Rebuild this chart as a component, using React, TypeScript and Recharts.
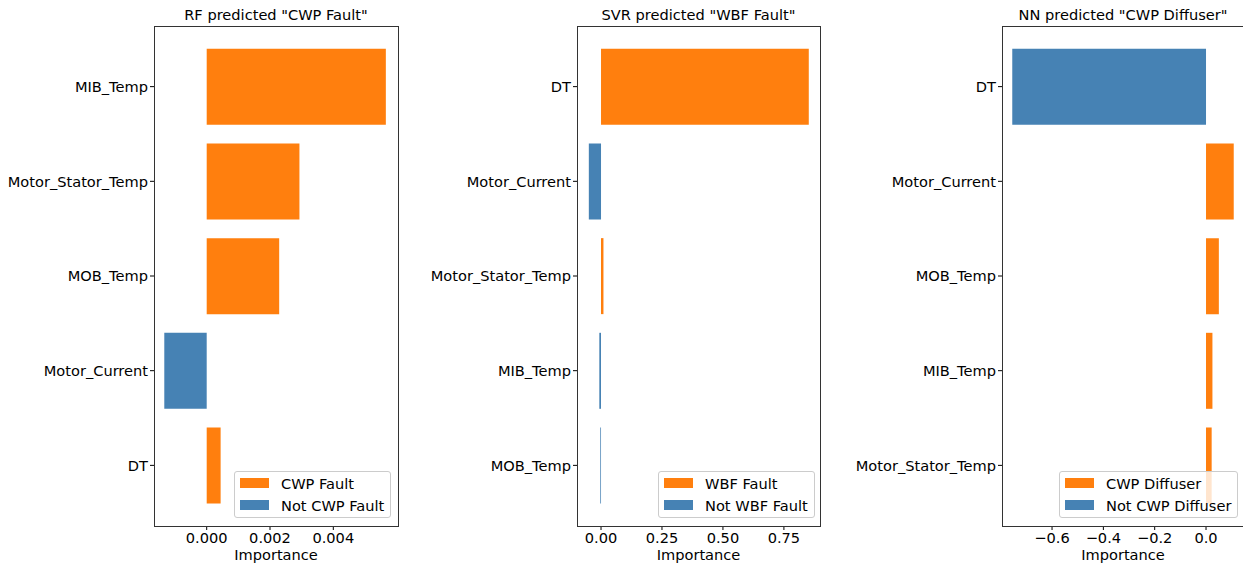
import React from 'react';
import { BarChart, Bar, Cell, XAxis, YAxis, Legend } from 'recharts';

// RF panel
const rfFeatures = ['MIB_Temp', 'Motor_Stator_Temp', 'MOB_Temp', 'Motor_Current', 'DT'];
const rfValues = [0.00566, 0.00293, 0.00229, -0.00134, 0.00044];
const rfTicks = [0, 0.002, 0.004];

// SVR panel
const svrFeatures = ['DT', 'Motor_Current', 'Motor_Stator_Temp', 'MIB_Temp', 'MOB_Temp'];
const svrValues = [0.852, -0.05, 0.01, -0.007, -0.003];
const svrTicks = [0, 0.25, 0.5, 0.75];

// NN panel
const nnFeatures = ['DT', 'Motor_Current', 'MOB_Temp', 'MIB_Temp', 'Motor_Stator_Temp'];
const nnValues = [-0.755, 0.108, 0.05, 0.025, 0.022];
const nnTicks = [-0.6, -0.4, -0.2, 0];

const ORANGE = '#ff7f0e';
const BLUE = '#4682b4';
const SPINE = '#333';
const FONT = '"DejaVu Sans", sans-serif';
const FS = 14.6;
const H = 565;
const W = 410;
const PLOT_TOP = 26;
const PLOT_BOTTOM = 526;

type PanelProps = {
  title: string;
  features: string[];
  values: number[];
  ticks: number[];
  digits: number;
  domain: [number, number];
  posLabel: string;
  negLabel: string;
  divLeft: number;
  plotLeft: number;
  plotRight: number;
  legendLeft: number;
};

const fmt = (digits: number) => (v: number) => v.toFixed(digits).replace('-', '\u2212');

const ImportancePanel = (p: PanelProps) => {
  const data = p.features.map((feature, i) => ({ feature, value: p.values[i] }));
  const yWidth = p.plotLeft - p.divLeft;
  const rightMargin = W - (p.plotRight - p.divLeft);

  const legendContent = () => (
    <div
      style={{
        background: 'rgba(255,255,255,0.8)',
        border: '1px solid #cccccc',
        borderRadius: 3,
        padding: '0 6px 1px 5px',
        fontSize: FS,
        color: '#000',
        whiteSpace: 'nowrap',
      }}
    >
      {[
        { label: p.posLabel, color: ORANGE },
        { label: p.negLabel, color: BLUE },
      ].map((e) => (
        <div key={e.label} style={{ display: 'flex', alignItems: 'center', height: 22 }}>
          <span style={{ display: 'inline-block', width: 29, height: 10, background: e.color, marginRight: 12 }} />
          <span>{e.label}</span>
        </div>
      ))}
    </div>
  );

  return (
    <div style={{ position: 'absolute', left: p.divLeft, top: 0, width: W, height: H }}>
      <div
        style={{
          position: 'absolute',
          top: 4,
          left: yWidth,
          width: p.plotRight - p.plotLeft,
          textAlign: 'center',
          fontSize: FS,
          lineHeight: '22px',
          whiteSpace: 'nowrap',
          color: '#000',
        }}
      >
        {p.title}
      </div>
      <BarChart
        width={W}
        height={H}
        data={data}
        layout="vertical"
        barCategoryGap="10%"
        margin={{ top: PLOT_TOP, right: rightMargin, bottom: 0, left: 0 }}
      >
        <XAxis
          type="number"
          dataKey="value"
          domain={p.domain}
          allowDataOverflow
          ticks={p.ticks}
          tickFormatter={fmt(p.digits)}
          height={H - PLOT_BOTTOM}
          tick={{ fill: '#000', fontSize: FS }}
          tickLine={{ stroke: '#000' }}
          tickSize={4}
          tickMargin={3}
          axisLine={false}
          interval={0}
          label={{ value: 'Importance', position: 'insideBottom', offset: 5, fill: '#000', fontSize: FS }}
        />
        <YAxis
          type="category"
          dataKey="feature"
          width={yWidth}
          padding={{ top: 13.3, bottom: 13.3 }}
          tick={{ fill: '#000', fontSize: FS }}
          tickLine={{ stroke: '#000' }}
          tickSize={4}
          tickMargin={2}
          axisLine={false}
          interval={0}
        />
        <Legend
          layout="vertical"
          align="center"
          verticalAlign="middle"
          content={legendContent}
          wrapperStyle={{ left: p.legendLeft, top: 471, width: 'auto' }}
        />
        <Bar dataKey="value" isAnimationActive={false}>
          {data.map((d) => (
            <Cell key={d.feature} fill={d.value >= 0 ? ORANGE : BLUE} />
          ))}
        </Bar>
      </BarChart>
      {/* axes frame (spines) */}
      <div
        style={{
          position: 'absolute',
          left: yWidth - 0.5,
          top: PLOT_TOP - 0.5,
          width: p.plotRight - p.plotLeft + 1,
          height: PLOT_BOTTOM - PLOT_TOP + 1,
          border: `1px solid ${SPINE}`,
          boxSizing: 'border-box',
          pointerEvents: 'none',
        }}
      />
    </div>
  );
};

export default function App() {
  return (
    <div
      style={{
        position: 'absolute',
        left: 0,
        top: 0,
        width: 1243,
        height: H,
        overflow: 'hidden',
        background: '#fff',
        fontFamily: FONT,
      }}
    >
      <ImportancePanel
        title={'RF predicted "CWP Fault"'}
        features={rfFeatures}
        values={rfValues}
        ticks={rfTicks}
        digits={3}
        domain={[-0.001665, 0.006044]}
        posLabel="CWP Fault"
        negLabel="Not CWP Fault"
        divLeft={0}
        plotLeft={154}
        plotRight={398}
        legendLeft={234}
      />
      <ImportancePanel
        title={'SVR predicted "WBF Fault"'}
        features={svrFeatures}
        values={svrValues}
        ticks={svrTicks}
        digits={2}
        domain={[-0.0985, 0.898]}
        posLabel="WBF Fault"
        negLabel="Not WBF Fault"
        divLeft={420}
        plotLeft={577}
        plotRight={820}
        legendLeft={238}
      />
      <ImportancePanel
        title={'NN predicted "CWP Diffuser"'}
        features={nnFeatures}
        values={nnValues}
        ticks={nnTicks}
        digits={1}
        domain={[-0.795, 0.148]}
        posLabel="CWP Diffuser"
        negLabel="Not CWP Diffuser"
        divLeft={835}
        plotLeft={1002}
        plotRight={1244}
        legendLeft={224}
      />
    </div>
  );
}
